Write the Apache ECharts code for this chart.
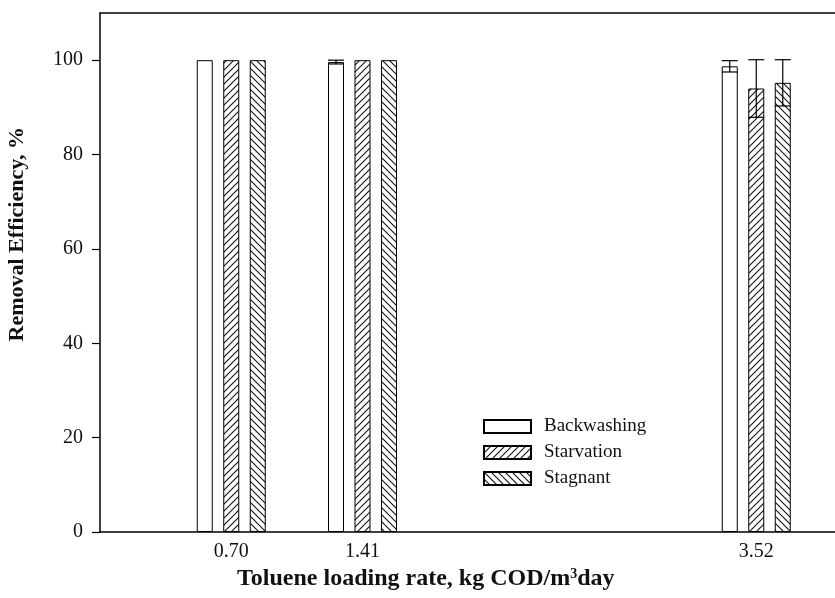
<!DOCTYPE html>
<html>
<head>
<meta charset="utf-8">
<script src="https://cdn.jsdelivr.net/npm/echarts@6/dist/echarts.min.js"></script>
<style>
  html, body { margin: 0; padding: 0; background: #fff; }
  #main { width: 835px; height: 598px; }
</style>
</head>
<body>
<div id="main"></div>
<script>
// loading rates (labels) and where each group sits on the x scale
var rateLabels = ['0.70', '1.41', '3.52'];
var ratePos = [1, 2, 5];

var seriesNames = ['Backwashing', 'Starvation', 'Stagnant'];
var backwashing = [100, 99.6, 98.7];
var starvation = [100, 100, 94];
var stagnant = [100, 100, 95.2];

// +/- error
var backwashingErr = [0, 0.4, 1.2];
var starvationErr = [0, 0, 6.1];
var stagnantErr = [0, 0, 4.9];

var yTicks = [0, 20, 40, 60, 80, 100];

var FONT = '"Liberation Serif", "DejaVu Serif", serif';
var BAR_W = 16;
var PITCH = 26.5;

// diagonal hatch tile, dir 1 = "/", -1 = "\"
function hatch(dir) {
    var s = 7;
    var c = document.createElement('canvas');
    c.width = s; c.height = s;
    var g = c.getContext('2d');
    g.fillStyle = '#fff';
    g.fillRect(0, 0, s, s);
    g.strokeStyle = '#111';
    g.lineWidth = 1.1;
    g.beginPath();
    if (dir > 0) {
        g.moveTo(-1, s + 1); g.lineTo(s + 1, -1);
        g.moveTo(-1, 1); g.lineTo(1, -1);
        g.moveTo(s - 1, s + 1); g.lineTo(s + 1, s - 1);
    } else {
        g.moveTo(-1, -1); g.lineTo(s + 1, s + 1);
        g.moveTo(s - 1, -1); g.lineTo(s + 1, 1);
        g.moveTo(-1, s - 1); g.lineTo(1, s + 1);
    }
    g.stroke();
    return c;
}

var fills = [
    '#fff',
    { image: hatch(1), repeat: 'repeat' },
    { image: hatch(-1), repeat: 'repeat' }
];

var means = [backwashing, starvation, stagnant];
var errs = [backwashingErr, starvationErr, stagnantErr];

function toPairs(arr) {
    return arr.map(function (v, i) { return [ratePos[i], v]; });
}

var series = seriesNames.map(function (name, k) {
    return {
        name: name,
        type: 'bar',
        barWidth: BAR_W,
        barGap: ((PITCH - BAR_W) / BAR_W * 100) + '%',
        data: toPairs(means[k]),
        itemStyle: { color: fills[k], borderColor: '#000', borderWidth: 1 },
        emphasis: { disabled: true }
    };
});

// error bar rows: [x, mean, err, seriesIndex]
var errRows = [];
means.forEach(function (arr, k) {
    arr.forEach(function (v, i) {
        if (errs[k][i] > 0) errRows.push([ratePos[i], v, errs[k][i], k]);
    });
});

series.push({
    type: 'custom',
    z: 10,
    silent: true,
    data: errRows,
    renderItem: function (params, api) {
        var x = api.value(0), m = api.value(1), e = api.value(2), k = api.value(3);
        var dx = (k - 1) * PITCH;
        var top = api.coord([x, m + e]);
        var bot = api.coord([x, m - e]);
        var cx = top[0] + dx;
        var half = BAR_W / 2;
        var st = { stroke: '#000', lineWidth: 1.2 };
        return {
            type: 'group',
            children: [
                { type: 'line', shape: { x1: cx, y1: top[1], x2: cx, y2: bot[1] }, style: st },
                { type: 'line', shape: { x1: cx - half, y1: top[1], x2: cx + half, y2: top[1] }, style: st },
                { type: 'line', shape: { x1: cx - half, y1: bot[1], x2: cx + half, y2: bot[1] }, style: st }
            ]
        };
    }
});

var chart = echarts.init(document.getElementById('main'), null, { renderer: 'canvas' });

var option = {
    backgroundColor: '#fff',
    animation: false,
    textStyle: { fontFamily: FONT },
    grid: { left: 100, right: 0, top: 13, bottom: 66 },
    legend: {
        data: seriesNames,
        orient: 'vertical',
        left: 478,
        top: 412,
        itemWidth: 47,
        itemHeight: 13,
        itemGap: 7,
        icon: 'rect',
        selectedMode: false,
        textStyle: { fontFamily: FONT, fontSize: 19, color: '#111', padding: [0, 0, 0, 8] }
    },
    xAxis: [{
        type: 'value',
        min: 0,
        max: 5.6,
        splitLine: { show: false },
        axisLine: { lineStyle: { color: '#000', width: 1.5 } },
        axisTick: { show: false },
        axisLabel: {
            customValues: ratePos,
            formatter: function (v) {
                var i = ratePos.indexOf(v);
                return i >= 0 ? rateLabels[i] : '';
            },
            margin: 10,
            fontFamily: FONT,
            fontSize: 20,
            color: '#111'
        }
    }, {
        type: 'value',
        position: 'top',
        min: 0,
        max: 5.6,
        splitLine: { show: false },
        axisLine: { show: true, lineStyle: { color: '#000', width: 1.5 } },
        axisTick: { show: false },
        axisLabel: { show: false }
    }],
    yAxis: {
        type: 'value',
        min: 0,
        max: 110,
        interval: 20,
        splitLine: { show: false },
        axisLine: { show: true, lineStyle: { color: '#000', width: 1.5 } },
        axisTick: { show: true, length: 8, lineStyle: { color: '#000', width: 1.2 }, customValues: yTicks },
        axisLabel: {
            customValues: yTicks,
            margin: 17,
            fontFamily: FONT,
            fontSize: 20,
            color: '#111'
        }
    },
    graphic: [{
        type: 'text',
        left: 6,
        top: 127,
        rotation: Math.PI / 2,
        style: {
            text: 'Removal Efficiency, %',
            font: 'bold 22px ' + FONT,
            fill: '#111'
        }
    }, {
        type: 'text',
        left: 237,
        top: 567,
        style: {
            text: '{a|Toluene loading rate, kg COD/m}{s|3}{a|day}',
            rich: {
                a: { font: 'bold 24px ' + FONT, fill: '#111' },
                s: { font: 'bold 14px ' + FONT, fill: '#111', verticalAlign: 'top', padding: [0, 0, 10, 0] }
            }
        }
    }],
    series: series
};

chart.setOption(option);
</script>
</body>
</html>
